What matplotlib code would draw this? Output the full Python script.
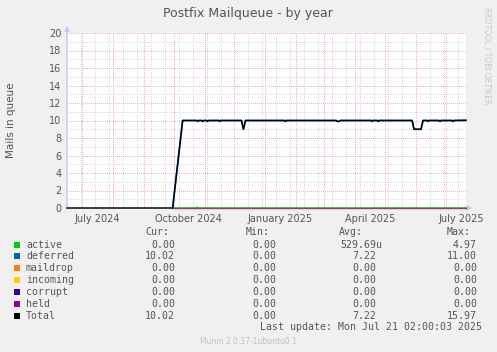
import matplotlib
matplotlib.use("Agg")
import matplotlib.pyplot as plt
from matplotlib.patches import Rectangle
from datetime import datetime, timedelta

# ---------------- data ----------------
title = "Postfix Mailqueue - by year"
ylabel = "Mails in queue"
x_start = "2024-06-16 02:00"
x_end = "2025-07-21 02:00"
x_label_dates = ["2024-07-16", "2024-10-16", "2025-01-16", "2025-04-16", "2025-07-16"]
x_labels = ["July 2024", "October 2024", "January 2025", "April 2025", "July 2025"]

total_dates = ["2024-06-16", "2024-09-30", "2024-10-10",
               "2024-10-24", "2024-10-25", "2024-10-26",
               "2024-10-29", "2024-10-30", "2024-10-31",
               "2024-11-03", "2024-11-04", "2024-11-05",
               "2024-11-15", "2024-11-16", "2024-11-17",
               "2024-12-08", "2024-12-10", "2024-12-12",
               "2025-01-20", "2025-01-21", "2025-01-22",
               "2025-03-13", "2025-03-14", "2025-03-16", "2025-03-17",
               "2025-04-17", "2025-04-18", "2025-04-19",
               "2025-04-23", "2025-04-24", "2025-04-25",
               "2025-05-28", "2025-05-30", "2025-06-06", "2025-06-08",
               "2025-06-12", "2025-06-13", "2025-06-14",
               "2025-06-24", "2025-06-25", "2025-06-26",
               "2025-07-07", "2025-07-08", "2025-07-09",
               "2025-07-21"]
total_values = [0, 0, 10.0,
                10.0, 9.9, 10.0,
                10.0, 9.9, 10.0,
                10.0, 9.9, 10.0,
                10.0, 9.9, 10.0,
                10.0, 9.0, 10.0,
                10.0, 9.9, 10.0,
                10.0, 9.9, 9.9, 10.0,
                10.0, 9.9, 10.0,
                10.0, 9.9, 10.0,
                10.0, 9.0, 9.0, 10.0,
                10.0, 9.9, 10.0,
                10.0, 9.9, 10.0,
                10.0, 9.9, 10.0,
                10.02]
# deferred carries the whole queue once the plugin started reporting
deferred_dates = total_dates[1:]
deferred_values = total_values[1:]

active_dates = ["2024-09-30", "2024-10-24", "2024-10-25", "2024-10-26", "2025-07-21"]
active_values = [0, 0, 0.1, 0, 0]
zero_dates = ["2024-09-30", "2025-07-21"]
zero_values = [0, 0]

series_names = ["active", "deferred", "maildrop", "incoming", "corrupt", "held", "Total"]
series_colors = ["#00CC00", "#0066B3", "#FF8000", "#FFCC00", "#330099", "#990099", "#000000"]
cur_vals = [0.00, 10.02, 0.00, 0.00, 0.00, 0.00, 10.02]
min_vals = [0.00, 0.00, 0.00, 0.00, 0.00, 0.00, 0.00]
avg_vals = [529.69e-6, 7.22, 0.00, 0.00, 0.00, 0.00, 7.22]
max_vals = [4.97, 11.00, 0.00, 0.00, 0.00, 0.00, 15.97]
last_update = "Last update: Mon Jul 21 02:00:03 2025"
munin_version = "Munin 2.0.37-1ubuntu0.1"
side_text = "RRDTOOL / TOBI OETIKER"

# ---------------- figure ----------------
W, H = 497, 352
fig = plt.figure(figsize=(W / 100, H / 100), dpi=100, facecolor="#F0F0F0")
L, R, T, B = 67, 466, 33, 208
ax = fig.add_axes([L / W, (H - B) / H, (R - L) / W, (B - T) / H])
ax.set_facecolor("white")
for s in ax.spines.values():
    s.set_visible(False)

def d(s):
    return datetime.fromisoformat(s)

x0, x1 = d(x_start), d(x_end)
ax.set_xlim(x0, x1)
ax.set_ylim(0, 20)

txt = "#555555"
# grid
grid_red = "#f6b0b0"
grid_gray = "#dadada"
dot = (0, (1, 2))
gkw = dict(lw=0.72, ls=dot, antialiased=False)
# minor vertical every two weeks
t = datetime(2024, 6, 30)
while t < x1:
    if t > x0:
        ax.axvline(t, color=grid_gray, zorder=1, **gkw)
    t += timedelta(days=14)
# major vertical at month starts
y_, m_ = 2024, 7
while datetime(y_, m_, 1) < x1:
    ax.axvline(datetime(y_, m_, 1), color=grid_red, zorder=1.5, **gkw)
    m_ += 1
    if m_ > 12:
        m_, y_ = 1, y_ + 1
for v in range(1, 21, 2):
    ax.axhline(v, color=grid_gray, zorder=1, **gkw)
for v in range(2, 21, 2):
    ax.axhline(v, color=grid_red, zorder=1.5, **gkw)

# series
ax.plot([d(s) for s in active_dates], active_values, color=series_colors[0], lw=1, zorder=3, clip_on=False)
ax.plot([d(s) for s in deferred_dates], deferred_values, color=series_colors[1], lw=1.3, zorder=3, clip_on=False)
for c in series_colors[2:6]:
    ax.plot([d(s) for s in zero_dates], zero_values, color=c, lw=0.9, alpha=0.4, zorder=3, clip_on=False)
ax.plot([d(s) for s in total_dates], total_values, color=series_colors[6], lw=1, zorder=4, clip_on=False)

# axes lines & arrows
axis_col = "#c4c4f4"
ax.annotate("", xy=(0, 1.04), xytext=(0, 0), xycoords="axes fraction",
            arrowprops=dict(arrowstyle="-|>", color=axis_col, lw=1, mutation_scale=7, shrinkA=0, shrinkB=0), zorder=2)
ax.annotate("", xy=(1.015, 0), xytext=(0, 0), xycoords="axes fraction",
            arrowprops=dict(arrowstyle="-|>", color=axis_col, lw=1, mutation_scale=7, shrinkA=0, shrinkB=0), zorder=2)

# ticks
ax.set_yticks(range(0, 21, 2))
ax.set_yticklabels([str(v) for v in range(0, 21, 2)])
ax.set_xticks([d(s) for s in x_label_dates])
ax.set_xticklabels(x_labels)
ax.tick_params(axis="both", length=0, labelsize=7, colors=txt)
ax.tick_params(axis="y", pad=4)
ax.tick_params(axis="x", pad=4)
for lab in ax.get_xticklabels():
    lab.set_clip_on(False)

# title and labels
fig.text(248 / W, 1 - 14 / H, title, ha="center", va="center", fontsize=9, color=txt)
fig.text(11 / W, 1 - 120 / H, ylabel, ha="center", va="center", rotation=90, fontsize=7.5, color=txt)
fig.text(487 / W, 1 - 56 / H, side_text, ha="center", va="center", rotation=270, fontsize=5.5, color="#c8c8c8")

# legend
mono = "DejaVu Sans Mono"
fs = 7.1

def fmt(v):
    if v != 0 and abs(v) < 1e-3:
        return "%.2f" % (v * 1e6), "u"
    if v != 0 and abs(v) < 1:
        return "%.2f" % (v * 1e3), "m"
    return "%.2f" % v, ""

def px(xp, yp):
    return xp / W, 1 - yp / H

hdr_y = 232
for lbl, xl in [("Cur:", 145), ("Min:", 246), ("Avg:", 339), ("Max:", 447)]:
    fig.text(*px(xl, hdr_y), lbl, ha="left", va="center", family=mono, fontsize=fs, color=txt)

row_y0, row_dy = 244.5, 11.95
for i, name in enumerate(series_names):
    yp = row_y0 + i * row_dy
    fig.patches.append(Rectangle(px(14, yp + 3), 6 / W, 6 / H, transform=fig.transFigure,
                                 facecolor=series_colors[i], edgecolor="none"))
    fig.text(*px(26, yp), name, ha="left", va="center", family=mono, fontsize=fs, color=txt)
    for vals, xr in [(cur_vals, 175), (min_vals, 276), (avg_vals, 376), (max_vals, 477)]:
        num, suf = fmt(vals[i])
        fig.text(*px(xr, yp), num, ha="right", va="center", family=mono, fontsize=fs, color=txt)
        if suf:
            fig.text(*px(xr, yp), suf, ha="left", va="center", family=mono, fontsize=fs, color=txt)

fig.text(*px(482, 327.5), last_update, ha="right", va="center", family=mono, fontsize=fs, color=txt)
fig.text(*px(248, 341), munin_version, ha="center", va="center", fontsize=5.5, color="#c0c0c0")

fig.savefig("out.png", dpi=100, facecolor=fig.get_facecolor())
